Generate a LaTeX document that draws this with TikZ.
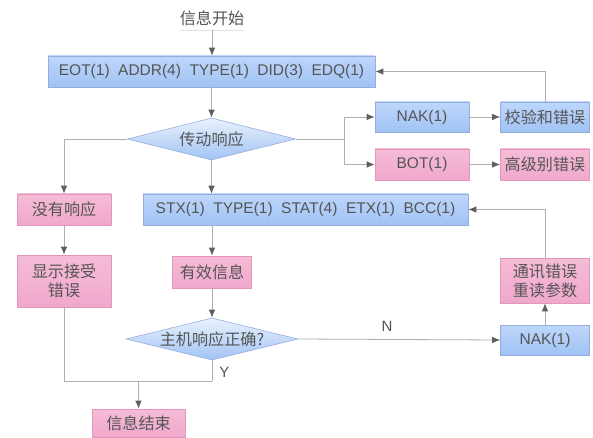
\documentclass[tikz,border=0pt]{standalone}
\usepackage{fontspec}
\setmainfont{Liberation Sans}
\newfontfamily\cjk{Noto Sans CJK SC}[Scale=1.04]
\usetikzlibrary{shapes.geometric,arrows.meta}
\definecolor{txt}{RGB}{85,85,85}
\definecolor{linegray}{RGB}{175,175,175}
\definecolor{tipgray}{RGB}{95,95,95}
\definecolor{bluetop}{RGB}{190,214,250}
\definecolor{bluemid}{RGB}{234,242,253}
\definecolor{bluebot}{RGB}{160,195,245}
\definecolor{blueedge}{RGB}{150,172,220}
\definecolor{pinktop}{RGB}{245,188,214}
\definecolor{pinkmid}{RGB}{252,236,243}
\definecolor{pinkbot}{RGB}{240,168,204}
\definecolor{pinkedge}{RGB}{228,150,186}
\newcommand\gp{\hspace{8.5pt}}
\tikzset{
  base/.style={inner sep=0pt, text=txt, font=\fontsize{15.5}{19}\selectfont, align=center},
  bluebox/.style={base, rectangle, draw=blueedge, line width=0.6pt,
     top color=bluetop, middle color=bluemid, bottom color=bluebot},
  pinkbox/.style={base, rectangle, draw=pinkedge, line width=0.6pt,
     top color=pinktop, middle color=pinkmid, bottom color=pinkbot},
  bluedia/.style={base, diamond, aspect=4, draw=blueedge, line width=0.6pt,
     top color=bluemid, middle color=bluetop, bottom color=bluebot},
  conn/.style={draw=linegray, line width=0.8pt},
  arr/.style={conn, -{Latex[length=8pt,width=6.5pt,color=tipgray]}},
  lbl/.style={text=txt, font=\fontsize{15}{18}\selectfont, inner sep=0pt}
}
\begin{document}
\begin{tikzpicture}[x=1pt,y=-1pt]
\useasboundingbox (0,0) rectangle (593,438);
\fill[white] (0,0) rectangle (593,438);

% nodes
\node[base, text=txt] (start) at (212,18) {\cjk 信息开始};
\draw[draw={rgb,255:red,225;green,225;blue,225}, line width=0.6pt] (180,30) -- (244,30);
\coordinate (startb) at (212,30);

\node[bluebox, minimum width=327pt, minimum height=31pt] (eot) at (211.5,71.5)
  {EOT(1)\gp ADDR(4)\gp TYPE(1)\gp DID(3)\gp EDQ(1)};
\node[bluedia, minimum width=168pt, minimum height=42pt] (d1) at (211.5,139) {\cjk 传动响应};

\node[bluebox, minimum width=94pt, minimum height=30pt] (nak1) at (422,117) {NAK(1)};
\node[bluebox, minimum width=89pt, minimum height=30pt] (chk) at (545,117) {\cjk 校验和错误};
\node[pinkbox, minimum width=94pt, minimum height=31pt] (bot) at (422,164.5) {BOT(1)};
\node[pinkbox, minimum width=89pt, minimum height=31pt] (high) at (545,164.5) {\cjk 高级别错误};

\node[pinkbox, minimum width=94pt, minimum height=31pt] (noresp) at (64,209.5) {\cjk 没有响应};
\node[bluebox, minimum width=325pt, minimum height=31pt] (stx) at (305.5,209.5)
  {STX(1)\gp TYPE(1)\gp STAT(4)\gp ETX(1)\gp BCC(1)};

\node[pinkbox, minimum width=94pt, minimum height=52pt] (disp) at (64,281) {\cjk 显示接受\\\cjk 错误};
\node[pinkbox, minimum width=79pt, minimum height=32pt] (valid) at (212,272) {\cjk 有效信息};
\node[pinkbox, minimum width=89pt, minimum height=45pt] (comm) at (545,280.5) {\cjk 通讯错误\\\cjk 重读参数};

\node[bluedia, minimum width=172pt, minimum height=42pt] (d2) at (212,339) {\cjk 主机响应正确?};
\node[bluebox, minimum width=89pt, minimum height=30pt] (nak2) at (545,340) {NAK(1)};

\node[pinkbox, minimum width=93pt, minimum height=28pt] (end) at (138.5,423) {\cjk 信息结束};

% junctions
\coordinate (jR) at (344,139);
\coordinate (jB) at (212,381);

% connectors
\draw[arr] (startb) -- (eot.north -| startb);
\draw[arr] (eot.south -| d1.north) -- (d1.north);
\draw[conn] (d1.east) -- (jR);
\draw[arr] (jR) |- (nak1.west);
\draw[arr] (jR) |- (bot.west);
\draw[arr] (nak1) -- (chk);
\draw[arr] (bot) -- (high);
\draw[arr] (chk.north) |- (eot.east);
\draw[arr] (d1.west) -| (noresp.north);
\draw[arr] (d1.south) -- (d1.south |- stx.north);
\draw[arr] (noresp) -- (disp);
\draw[arr] (valid.north |- stx.south) -- (valid.north);
\draw[arr] (valid) -- (d2);
\draw[arr] (d2.east) -- (nak2.west) node[lbl, pos=0.44, above=8pt] {N};
\draw[arr] (nak2) -- (comm);
\draw[arr] (comm.north) |- (stx.east);
\draw[conn] (disp.south) |- (jB);
\draw[conn] (d2.south) -- (jB) node[lbl, pos=0.6, right=7pt] {Y};
\draw[arr] (end.north |- jB) -- (end.north);
\end{tikzpicture}
\end{document}
